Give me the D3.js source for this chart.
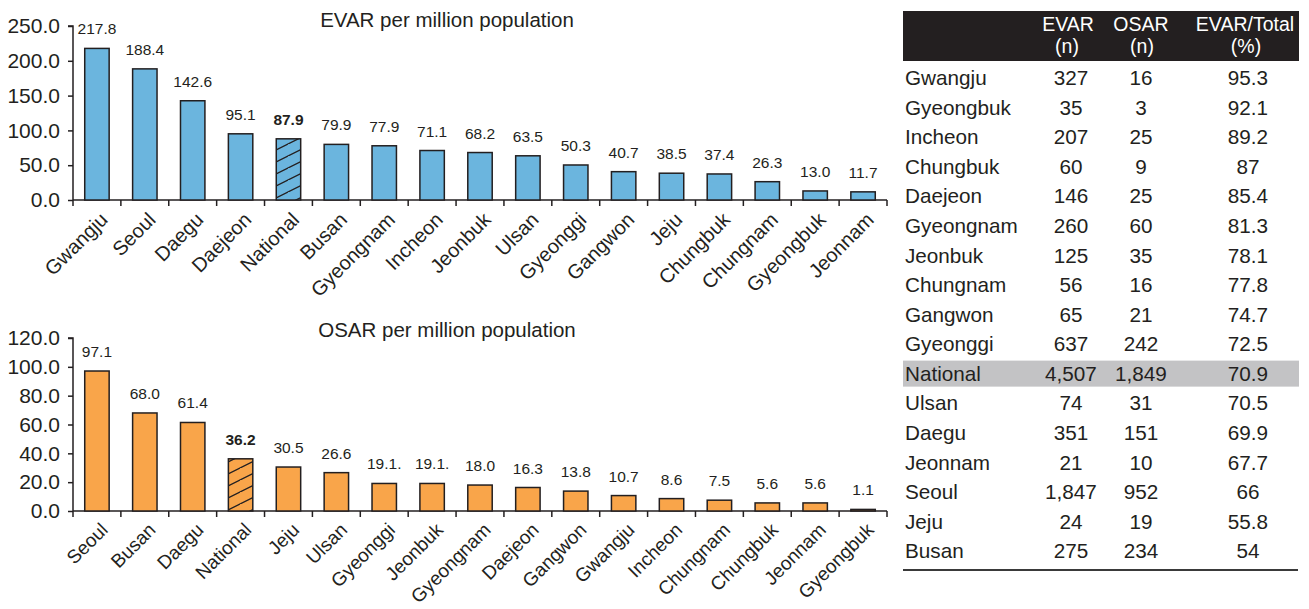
<!DOCTYPE html>
<html>
<head>
<meta charset="utf-8">
<script src="https://cdn.jsdelivr.net/npm/d3@7"></script>
<style>
  html, body { margin: 0; padding: 0; background: #fff; }
  svg { display: block; font-family: "Liberation Sans", Arial, sans-serif; }
</style>
</head>
<body>
<svg id="chart" width="1309" height="609"></svg>
<script>
// ---- EVAR rates per million population (top panel) ----
const evarRegions = ["Gwangju","Seoul","Daegu","Daejeon","National","Busan","Gyeongnam","Incheon",
  "Jeonbuk","Ulsan","Gyeonggi","Gangwon","Jeju","Chungbuk","Chungnam","Gyeongbuk","Jeonnam"];
const evarRates = [217.8,188.4,142.6,95.1,87.9,79.9,77.9,71.1,68.2,63.5,50.3,40.7,38.5,37.4,26.3,13.0,11.7];
const evarTicks = [0,50,100,150,200,250];

// ---- OSAR rates per million population (bottom panel) ----
const osarRegions = ["Seoul","Busan","Daegu","National","Jeju","Ulsan","Gyeonggi","Jeonbuk","Gyeongnam",
  "Daejeon","Gangwon","Gwangju","Incheon","Chungnam","Chungbuk","Jeonnam","Gyeongbuk"];
const osarRates = [97.1,68.0,61.4,36.2,30.5,26.6,19.1,19.1,18.0,16.3,13.8,10.7,8.6,7.5,5.6,5.6,1.1];
const osarLabels = ["97.1","68.0","61.4","36.2","30.5","26.6","19.1.","19.1.","18.0","16.3","13.8","10.7","8.6","7.5","5.6","5.6","1.1"];
const osarTicks = [0,20,40,60,80,100,120];

// ---- Case counts table ----
const tableRegions = ["Gwangju","Gyeongbuk","Incheon","Chungbuk","Daejeon","Gyeongnam","Jeonbuk","Chungnam",
  "Gangwon","Gyeonggi","National","Ulsan","Daegu","Jeonnam","Seoul","Jeju","Busan"];
const tableEvar = ["327","35","207","60","146","260","125","56","65","637","4,507","74","351","21","1,847","24","275"];
const tableOsar = ["16","3","25","9","25","60","35","16","21","242","1,849","31","151","10","952","19","234"];
const tablePct = ["95.3","92.1","89.2","87","85.4","81.3","78.1","77.8","74.7","72.5","70.9","70.5","69.9","67.7","66","55.8","54"];

const TEXT = "#231f20";
const svg = d3.select("#chart");

// hatch patterns for the national bars
function addHatch(id, fill) {
  const p = svg.append("defs").append("pattern")
    .attr("id", id).attr("patternUnits", "userSpaceOnUse")
    .attr("width", 24).attr("height", 12);
  p.append("rect").attr("width", 24).attr("height", 12).attr("fill", fill);
  p.append("path").attr("d", "M-12,6 L0,0 M0,12 L24,0 M12,18 L36,6")
    .attr("stroke", "#231f20").attr("stroke-width", 1.3).attr("fill", "none");
}
addHatch("hatchBlue", "#6bb5de");
addHatch("hatchOrange", "#f9a54a");

function panel(opts) {
  const { regions, values, labels, ticks, yMax, top, bottom, fill, hatch, title, titleY, catSize, catDrop } = opts;
  const left = 73, right = 887;
  const x = d3.scaleBand().domain(regions).range([left, right]).paddingInner(0.49).paddingOuter(0.245);
  const y = d3.scaleLinear().domain([0, yMax]).range([bottom, top]);
  const g = svg.append("g");

  g.append("text").attr("x", 447).attr("y", titleY)
    .attr("text-anchor", "middle").attr("font-size", 20.5).attr("fill", TEXT).text(title);

  // y axis
  const ya = g.append("g").attr("transform", `translate(${left},0)`)
    .call(d3.axisLeft(y).tickValues(ticks).tickFormat(d3.format(".1f")).tickSize(5).tickPadding(8));
  ya.select(".domain").attr("stroke", TEXT).attr("stroke-width", 1.5).attr("d", `M-5,${top}H0V${bottom}`);
  ya.selectAll(".tick line").attr("stroke", TEXT).attr("stroke-width", 1.5);
  ya.selectAll(".tick text").attr("font-size", 21).attr("fill", TEXT).attr("font-family", "Liberation Sans, Arial, sans-serif");

  // x axis with ticks on band boundaries
  const step = x.step();
  g.append("line").attr("x1", left).attr("x2", right).attr("y1", bottom).attr("y2", bottom)
    .attr("stroke", TEXT).attr("stroke-width", 1.5);
  g.selectAll(".xt").data(d3.range(regions.length + 1)).join("line")
    .attr("x1", i => left + i * step).attr("x2", i => left + i * step)
    .attr("y1", bottom).attr("y2", bottom + 6).attr("stroke", TEXT).attr("stroke-width", 1.5);

  // bars
  g.selectAll(".bar").data(regions).join("rect")
    .attr("x", d => x(d)).attr("width", x.bandwidth())
    .attr("y", (d, i) => y(values[i])).attr("height", (d, i) => bottom - y(values[i]))
    .attr("fill", d => d === "National" ? `url(#${hatch})` : fill)
    .attr("stroke", "#231f20").attr("stroke-width", 1.5);

  // value labels
  g.selectAll(".val").data(regions).join("text")
    .attr("x", d => x(d) + x.bandwidth() / 2)
    .attr("y", (d, i) => y(values[i]) - 14)
    .attr("text-anchor", "middle").attr("font-size", 15.5).attr("fill", TEXT)
    .attr("font-weight", d => d === "National" ? "bold" : "normal")
    .text((d, i) => labels[i]);

  // rotated category labels
  g.selectAll(".cat").data(regions).join("text")
    .attr("transform", d => `translate(${x(d) + x.bandwidth() / 2 + 12},${bottom + catDrop}) rotate(-45)`)
    .attr("text-anchor", "end").attr("font-size", catSize).attr("fill", TEXT)
    .text(d => d);
}

panel({ regions: evarRegions, values: evarRates, labels: evarRates.map(d3.format(".1f")),
  ticks: evarTicks, yMax: 250, top: 26, bottom: 200, fill: "#6bb5de", hatch: "hatchBlue",
  title: "EVAR per million population", titleY: 27, catSize: 20, catDrop: 21 });
panel({ regions: osarRegions, values: osarRates, labels: osarLabels,
  ticks: osarTicks, yMax: 120, top: 338, bottom: 511, fill: "#f9a54a", hatch: "hatchOrange",
  title: "OSAR per million population", titleY: 337, catSize: 19, catDrop: 20 });

// ---- table ----
const tbl = svg.append("g");
const tLeft = 903, tRight = 1299;
tbl.append("rect").attr("x", tLeft).attr("y", 11).attr("width", tRight - tLeft).attr("height", 50).attr("fill", "#231f20");
const heads = [
  { x: 1068, x2: 1067, l1: "EVAR", l2: "(n)" },
  { x: 1141, x2: 1142, l1: "OSAR", l2: "(n)" },
  { x: 1245, x2: 1246, l1: "EVAR/Total", l2: "(%)" }
];
heads.forEach(h => {
  tbl.append("text").attr("x", h.x).attr("y", 31).attr("text-anchor", "middle")
    .attr("font-size", 19.5).attr("fill", "#fff").text(h.l1);
  tbl.append("text").attr("x", h.x2).attr("y", 53).attr("text-anchor", "middle")
    .attr("font-size", 19.5).attr("fill", "#fff").text(h.l2);
});

const rowY = d3.scalePoint().domain(tableRegions).range([78, 551]);
const natY = rowY("National");
tbl.append("rect").attr("x", tLeft).attr("y", natY - 13).attr("width", tRight - tLeft).attr("height", 26).attr("fill", "#c3c3c5");

const cols = [
  { x: tLeft + 2, anchor: "start", vals: tableRegions },
  { x: 1071, anchor: "middle", vals: tableEvar },
  { x: 1141, anchor: "middle", vals: tableOsar },
  { x: 1248, anchor: "middle", vals: tablePct }
];
cols.forEach(c => {
  tbl.selectAll(null).data(tableRegions).join("text")
    .attr("x", c.x).attr("y", d => rowY(d)).attr("dy", "0.35em")
    .attr("text-anchor", c.anchor).attr("font-size", 20.7).attr("fill", TEXT)
    .text((d, i) => c.vals[i]);
});
tbl.append("line").attr("x1", tLeft).attr("x2", tRight - 1).attr("y1", 570).attr("y2", 570)
  .attr("stroke", "#3a3a3a").attr("stroke-width", 2);
</script>
</body>
</html>
